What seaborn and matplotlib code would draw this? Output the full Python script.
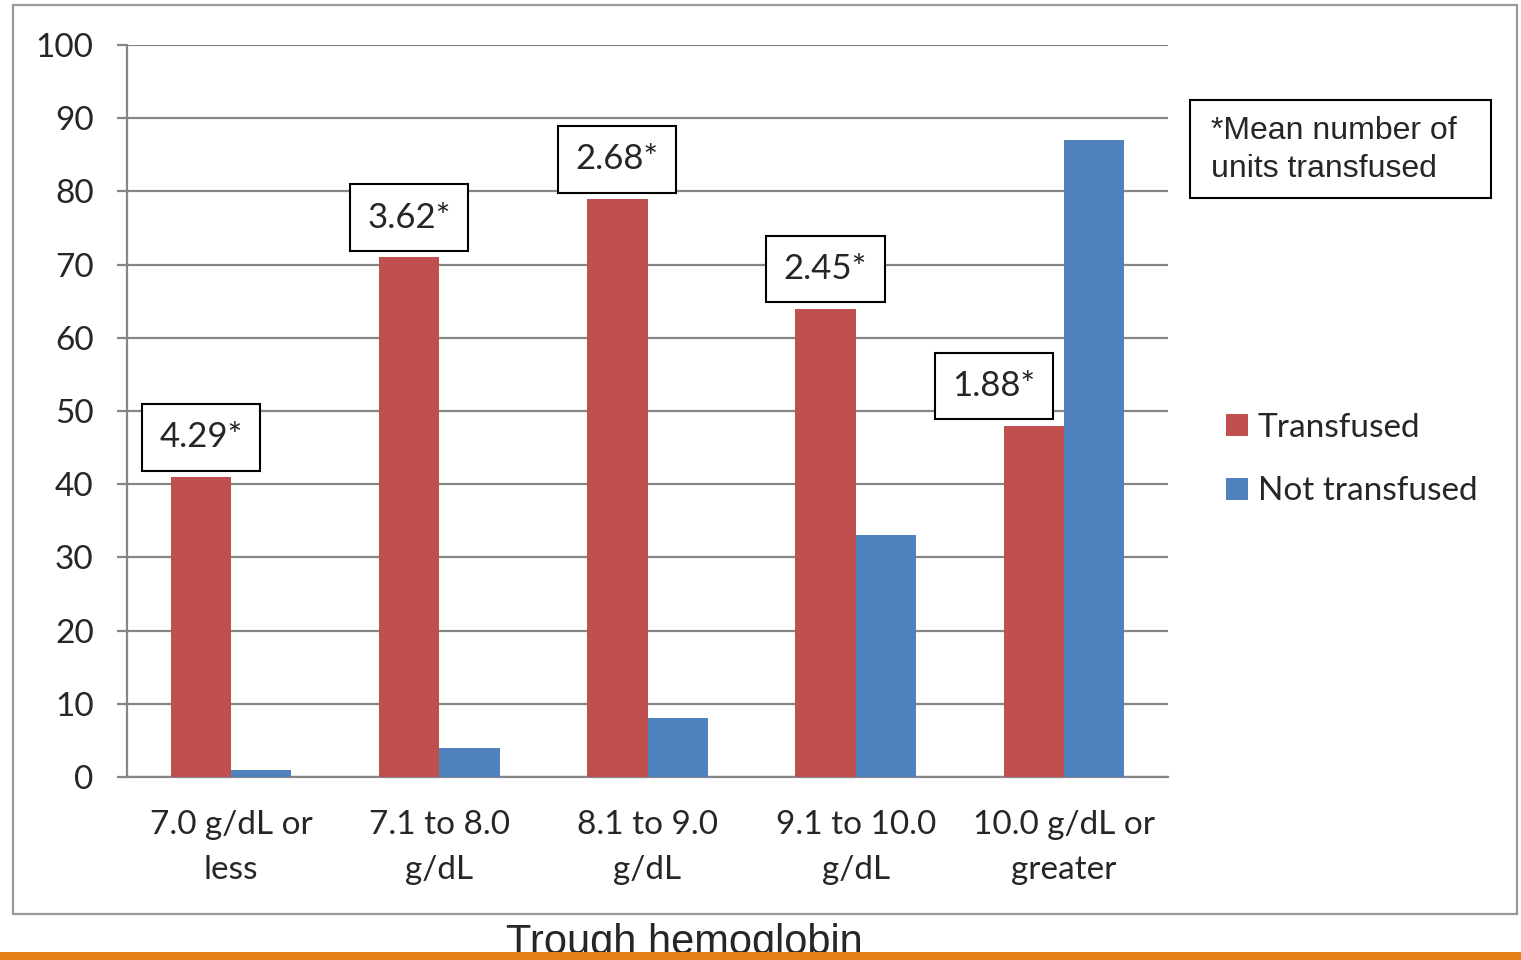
import pandas as pd
import seaborn as sns
import matplotlib.pyplot as plt
from matplotlib.patches import Rectangle

ranges = ["7.0 g/dL or\nless", "7.1 to 8.0\ng/dL", "8.1 to 9.0\ng/dL", "9.1 to 10.0\ng/dL", "10.0 g/dL or\ngreater"]
transfused = [41, 71, 79, 64, 48]
not_transfused = [1, 4, 8, 33, 87]
mean_units = ["4.29*", "3.62*", "2.68*", "2.45*", "1.88*"]
groups = ["Transfused", "Not transfused"]

df = pd.DataFrame({
    "range": ranges * 2,
    "pct": transfused + not_transfused,
    "group": [groups[0]] * 5 + [groups[1]] * 5,
})

sns.set_style("white")
plt.rcParams["font.family"] = ["Lato", "DejaVu Sans"]

grey = "#868686"
fig = plt.figure(figsize=(15.21, 9.6), dpi=100)
ax = fig.add_axes([127 / 1521, 183 / 960, 1041 / 1521, 732 / 960])

sns.barplot(data=df, x="range", y="pct", hue="group", palette=["#C0504D", "#4F81BD"],
            width=0.58, saturation=1, linewidth=0, ax=ax, zorder=3)
handles, labels = ax.get_legend_handles_labels()
ax.get_legend().remove()

ax.set_xlim(-0.5, 4.5)
ax.set_ylim(0, 100)
ax.set_yticks(range(0, 101, 10))
ax.set_xlabel("")
ax.set_ylabel("")
ax.yaxis.grid(True, color=grey, lw=1.6, zorder=0)
ax.set_axisbelow(True)
for s in ["top", "right"]:
    ax.spines[s].set_visible(False)
for s in ["left", "bottom"]:
    ax.spines[s].set_color(grey)
    ax.spines[s].set_linewidth(1.6)

ax.set_xticks([i + 0.5 for i in range(-1, 5)], minor=True)
ax.tick_params(axis="x", which="major", length=0, pad=24, labelsize=24)
ax.tick_params(axis="x", which="minor", length=7, width=1.6, color=grey, direction="out")
ax.tick_params(axis="y", length=7, width=1.6, color=grey, direction="out", pad=17, labelsize=24)
ax.tick_params(axis="both", bottom=True, left=True)
for t in ax.get_xticklabels():
    t.set_linespacing(1.6)

# mean units boxes above the transfused bars
shift = [0, 0, 0, 0, -0.19]
red_bars = ax.containers[0]
for bar, txt, dx in zip(red_bars, mean_units, shift):
    x = bar.get_x() + bar.get_width() / 2 + dx
    y = bar.get_height() + 5.4
    ax.text(x, y, txt, ha="center", va="center", fontsize=25, zorder=5,
            bbox=dict(boxstyle="square,pad=0.5", fc="white", ec="black", lw=1.5))

fig.legend(handles, labels, loc="upper left", bbox_to_anchor=(1196 / 1521, 1 - 383 / 960),
           frameon=False, fontsize=24, handlelength=0.65, handleheight=0.65,
           handletextpad=0.3, labelspacing=1.0)

fig.patches.append(Rectangle((1190 / 1521, 1 - 198 / 960), 301 / 1521, 98 / 960,
                             transform=fig.transFigure, fc="white", ec="black", lw=1.5, zorder=4))
fig.text(1211 / 1521, 1 - 150 / 960, "*Mean number of\nunits transfused", family="Liberation Sans",
         fontsize=23, va="center", ha="left", linespacing=1.32, zorder=5)

fig.patches.append(Rectangle((13 / 1521, 1 - 914 / 960), 1504 / 1521, 909 / 960,
                             transform=fig.transFigure, fill=False, ec="#999999", lw=1.6, zorder=0))
fig.text(684 / 1521, 1 - 954 / 960, "Trough hemoglobin", family="Liberation Sans",
         fontsize=30, ha="center", va="baseline", zorder=5)
fig.patches.append(Rectangle((0, 0), 1, 8 / 960, transform=fig.transFigure,
                             fc="#E5801A", ec="none", zorder=10))

fig.savefig("out.png", dpi=100)
